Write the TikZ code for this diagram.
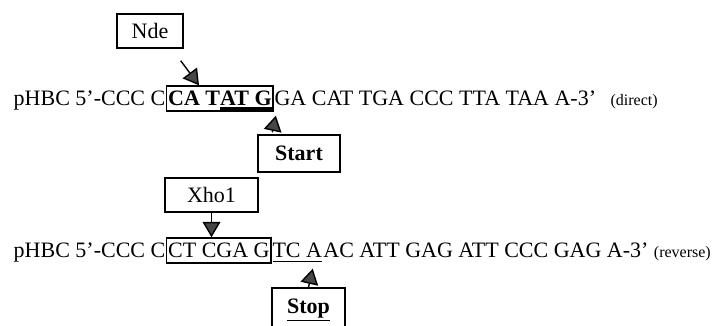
\documentclass[tikz,border=0pt]{standalone}
\usepackage{fontspec}
\setmainfont{Liberation Serif}
\usetikzlibrary{arrows.meta,calc}
\newcommand\codonline[2]{\setbox0\hbox{#2}\leavevmode\rlap{\rule[-4pt]{\wd0}{#1}}\box0}
\begin{document}
\begin{tikzpicture}[x=1pt, y=-1pt, line width=1.4pt, font=\fontsize{22}{26}\selectfont,
  pointer/.style={-{Triangle[scale=2.3, fill=gray!55!black]}},
  seq/.style={inner sep=0pt, anchor=base west},
  note/.style={seq, font=\fontsize{16}{19}\selectfont},
  site/.style={draw, inner xsep=1.5pt, inner ysep=5pt, text height=15pt, text depth=0pt, anchor=base west},
  tag/.style={draw, rectangle, inner sep=0pt}]
\useasboundingbox (0,0) rectangle (713,326);
\clip (0,0) rectangle (713,326);
\node[seq] (pre1) at (13,106) {pHBC 5’-CCC C};
\node[site] (ndesite) at (pre1.base east) {\bfseries CA T\codonline{2.5pt}{AT G}};
\node[seq] (post1) at (ndesite.base east) {GA CAT TGA CCC TTA TAA A-3’};
\node[note] (dir) at ([xshift=13pt]post1.base east) {(direct)};
\node[seq] (pre2) at (13,258) {pHBC 5’-CCC C};
\node[site] (xhosite) at (pre2.base east) {CT CGA G};
\node[seq] (stopsite) at (xhosite.base east) {\codonline{1pt}{TC A}};
\node[seq] (post2) at (stopsite.base east) {AC ATT GAG ATT CCC GAG A-3’};
\node[note] (rev) at ([xshift=4pt]post2.base east) {(reverse)};
\node[tag, minimum width=66pt, minimum height=34pt] (nde) at (150,31) {Nde};
\node[tag, minimum width=82pt, minimum height=37pt] (start) at (299,153.5) {\textbf{Start}};
\node[tag, minimum width=93pt, minimum height=34pt] (xho) at (211.5,195) {Xho1};
\node[tag, minimum width=73pt, minimum height=44pt] (stop) at (308.5,310) {\underline{\textbf{Stop}}};
\coordinate (ndetail) at ($(nde.south east)+(-3,12)$);
\draw[pointer] (ndetail) -- ($(ndesite.north west)+(33,0)$);
\draw[pointer] ($(start.north west)+(15,-2)$) -- ($(ndesite.south east)+(2,4)$);
\draw[pointer] (xho.south) -- (xho.south |- xhosite.north);
\draw[pointer] (stop.north) -- ($(stopsite.south east)+(-10,6)$);
\end{tikzpicture}
\end{document}
